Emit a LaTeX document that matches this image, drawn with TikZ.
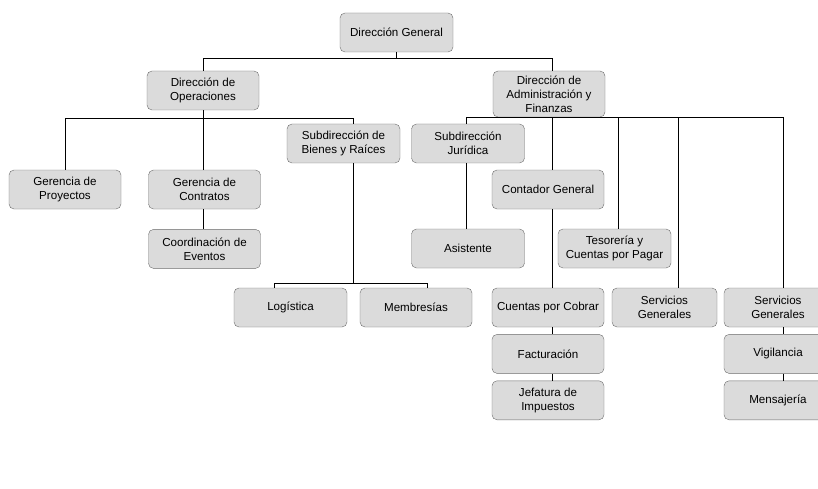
\documentclass[tikz,border=0pt]{standalone}
\usepackage{fontspec}
\setmainfont{Liberation Sans}
\usepackage{tikz}
\usetikzlibrary{positioning,calc}

\tikzset{
  unit/.style={draw=gray!85!black, fill=gray!28, rounded corners=5pt, inner sep=2pt,
    minimum width=112pt, minimum height=39pt, align=center,
    font=\fontsize{11.6}{14}\selectfont},
  link/.style={draw=black, line width=0.8pt}
}

\begin{document}
\begin{tikzpicture}[x=1pt, y=-1pt]
  \useasboundingbox (0,0) rectangle (818,489);

  % top levels
  \node[unit, minimum width=113pt] (dg) at (396.5,32.5) {Dirección General};
  \node[unit] (dop) at (203,90.5) {Dirección de\\Operaciones};
  \node[unit, minimum height=46pt] (dadm) at (549,94) {Dirección de\\Administración y\\Finanzas};

  % operaciones
  \node[unit] (gp) at (65,189.5) {Gerencia de\\Proyectos};
  \node[unit] (gc) at (204.5,189.5) {Gerencia de\\Contratos};
  \node[unit, below=20pt of gc] (ce) {Coordinación de\\Eventos};
  \node[unit, minimum width=113pt] (sbr) at (343.5,143.5) {Subdirección de\\Bienes y Raíces};
  \node[unit, minimum width=113pt] (log) at (290.5,307.5) {Logística};
  \node[unit] (mem) at (416,307.5) {Membresías};

  % administracion y finanzas
  \node[unit, minimum width=113pt] (sj) at (468,143.5) {Subdirección\\Jurídica};
  \node[unit, minimum width=113pt] (asi) at (468,248.5) {Asistente};
  \node[unit] (cg) at (548,189.5) {Contador General};
  \node[unit, minimum width=113pt] (tes) at (614.5,248.5) {Tesorería y\\Cuentas por Pagar};
  \node[unit] (cpc) at (548,307.5) {Cuentas por Cobrar};
  \node[unit, below=7pt of cpc] (fac) {Facturación};
  \node[unit, below=7pt of fac] (jef) {Jefatura de\\Impuestos};
  \node[unit, minimum width=105pt] (sg1) at (664.5,307.5) {Servicios\\Generales};
  \node[unit, minimum width=108pt] (sg2) at (778,307.5) {Servicios\\Generales};
  \node[unit, minimum width=108pt, below=7pt of sg2] (vig) {Vigilancia};
  \node[unit, minimum width=108pt, below=7pt of vig] (men) {Mensajería};

  % connectors
  \draw[link] (dg.south) -- ++(0,6) coordinate (b0);
  \draw[link] (dop.north) |- (b0) -| ([xshift=3pt]dadm.north);

  \draw[link] (dop.south) -- ++(0,8) coordinate (b1);
  \draw[link] (gp.north) |- (b1) -| ([xshift=9.5pt]sbr.north);
  \draw[link] (b1) -- (b1 |- gc.north);
  \draw[link] (b1 |- gc.south) -- (b1 |- ce.north);
  \draw[link] ([xshift=9.5pt]sbr.south) -- ++(0,120) coordinate (b2);
  \draw[link] ([xshift=-16.5pt]log.north) |- (b2) -| ([xshift=11pt]mem.north);

  \draw[link] ([xshift=-2pt]sj.north) |- (dadm.south) -| ([xshift=5pt]sg2.north);
  \draw[link] ([xshift=-2pt]sj.south) -- ([xshift=-2pt]asi.north);
  \draw[link] ([xshift=4pt]cg.north) -- ([xshift=4pt]cg.north |- dadm.south);
  \draw[link] ([xshift=3.5pt]tes.north) -- ([xshift=3.5pt]tes.north |- dadm.south);
  \draw[link] ([xshift=13.5pt]sg1.north) -- ([xshift=13.5pt]sg1.north |- dadm.south);
  \draw[link] ([xshift=4pt]cg.south) -- ([xshift=4pt]cpc.north);
  \draw[link] ([xshift=4pt]cpc.south) -- ([xshift=4pt]fac.north);
  \draw[link] ([xshift=4pt]fac.south) -- ([xshift=4pt]jef.north);
  \draw[link] ([xshift=5pt]sg2.south) -- ([xshift=5pt]vig.north);
  \draw[link] ([xshift=5pt]vig.south) -- ([xshift=5pt]men.north);
\end{tikzpicture}
\end{document}
